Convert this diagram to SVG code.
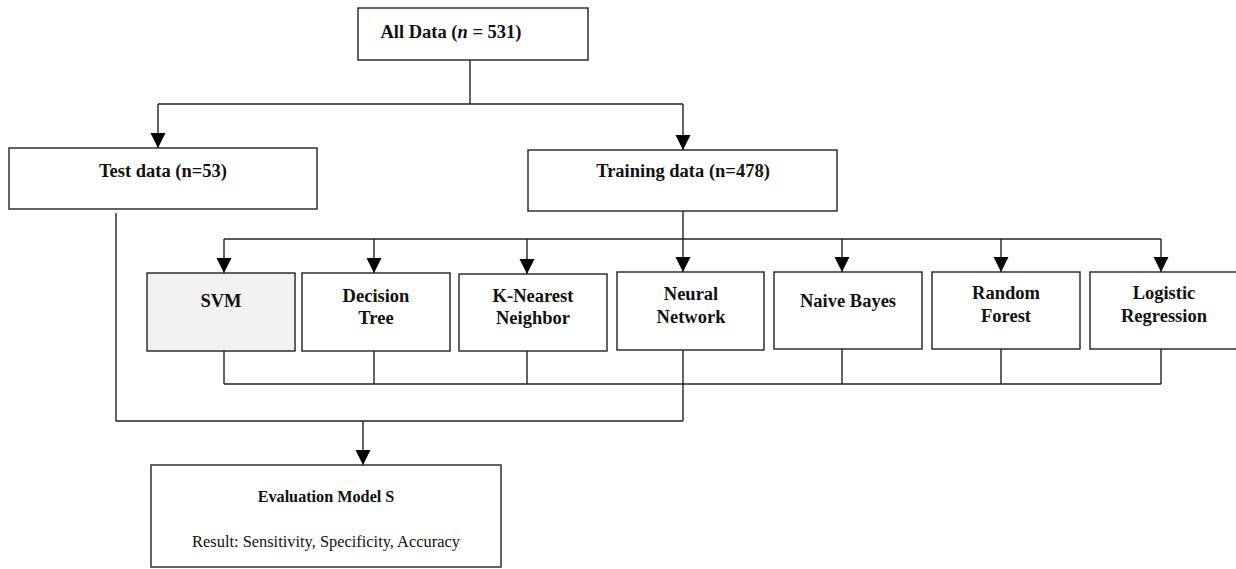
<svg xmlns="http://www.w3.org/2000/svg" width="1236" height="569" viewBox="0 0 1236 569">
<style>
.box{fill:#fff;stroke:#222;stroke-width:1.4}
.gray{fill:#f2f2f2}
.b{font-family:"Liberation Serif","Times New Roman",serif;font-weight:bold;font-size:18.5px;fill:#111;text-anchor:middle}
.r{font-family:"Liberation Serif","Times New Roman",serif;font-size:16.4px;fill:#111;text-anchor:middle}
.c{fill:none;stroke:#222;stroke-width:1.4}
</style>
<defs>
<marker id="ah" markerUnits="userSpaceOnUse" markerWidth="16" markerHeight="16" refX="15" refY="8" orient="auto" viewBox="0 0 16 16">
<path d="M0,0.5 L15,8 L0,15.5 z" fill="#000"/>
</marker>
</defs>
<g id="connectors">
<path class="c" d="M470,60 V104 M158,104 H683"/>
<path class="c" d="M158,104 V148" marker-end="url(#ah)"/>
<path class="c" d="M683,104 V150" marker-end="url(#ah)"/>
<path class="c" d="M683,211 V239 M224,239 H1161"/>
<path class="c" d="M224,239 V273" marker-end="url(#ah)"/>
<path class="c" d="M374,239 V273" marker-end="url(#ah)"/>
<path class="c" d="M527,239 V274" marker-end="url(#ah)"/>
<path class="c" d="M683,239 V272" marker-end="url(#ah)"/>
<path class="c" d="M842,239 V272" marker-end="url(#ah)"/>
<path class="c" d="M1001,239 V272" marker-end="url(#ah)"/>
<path class="c" d="M1161,239 V272" marker-end="url(#ah)"/>
<path class="c" d="M224,351 V384 M374,351 V384 M527,351 V384 M683,350 V421 M842,349 V384 M1001,349 V384 M1161,349 V384 M224,384 H1161"/>
<path class="c" d="M116,213 V421 H683"/>
<path class="c" d="M363,421 V465" marker-end="url(#ah)"/>
</g>
<g id="all-data">
<rect class="box" x="358" y="8" width="230" height="52"/>
<text class="b" x="451" y="38">All Data (<tspan font-style="italic">n</tspan> = 531)</text>
</g>
<g id="test-data">
<rect class="box" x="9" y="148" width="308" height="61"/>
<text class="b" x="163" y="177">Test data (n=53)</text>
</g>
<g id="training-data">
<rect class="box" x="528" y="150" width="309" height="61"/>
<text class="b" x="683" y="177">Training data (n=478)</text>
</g>
<g id="svm">
<rect class="box gray" x="147" y="273" width="148" height="78"/>
<text class="b" x="221" y="307">SVM</text>
</g>
<g id="decision-tree">
<rect class="box" x="302" y="273" width="148" height="78"/>
<text class="b" x="376" y="302">Decision</text>
<text class="b" x="376" y="324">Tree</text>
</g>
<g id="knn">
<rect class="box" x="459" y="274" width="148" height="77"/>
<text class="b" x="533" y="302">K-Nearest</text>
<text class="b" x="533" y="324">Neighbor</text>
</g>
<g id="neural-network">
<rect class="box" x="617" y="272" width="147" height="78"/>
<text class="b" x="691" y="300">Neural</text>
<text class="b" x="691" y="323">Network</text>
</g>
<g id="naive-bayes">
<rect class="box" x="774" y="272" width="148" height="77"/>
<text class="b" x="848" y="307">Naive Bayes</text>
</g>
<g id="random-forest">
<rect class="box" x="932" y="272" width="148" height="77"/>
<text class="b" x="1006" y="299">Random</text>
<text class="b" x="1006" y="322">Forest</text>
</g>
<g id="logistic-regression">
<rect class="box" x="1090" y="272" width="150" height="77"/>
<text class="b" x="1164" y="299">Logistic</text>
<text class="b" x="1164" y="322">Regression</text>
</g>
<g id="evaluation">
<rect class="box" x="151" y="465" width="350" height="102"/>
<text class="b" x="326" y="502" style="font-size:16.2px">Evaluation Model S</text>
<text class="r" x="326" y="547">Result: Sensitivity, Specificity, Accuracy</text>
</g>
</svg>
